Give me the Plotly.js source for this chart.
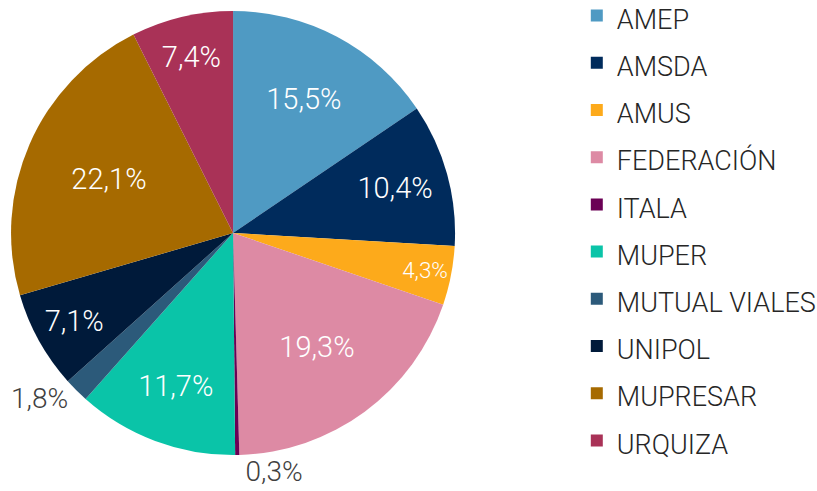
<!DOCTYPE html>
<html>
<head>
<meta charset="utf-8">
<script src="https://cdn.plot.ly/plotly-3.0.1.min.js"></script>
<style>html,body{margin:0;padding:0;background:#fff;}#chart{width:817px;height:491px;}</style>
</head>
<body>
<div id="chart"></div>
<script>
const labels = ["AMEP", "AMSDA", "AMUS", "FEDERACIÓN", "ITALA", "MUPER", "MUTUAL VIALES", "UNIPOL", "MUPRESAR", "URQUIZA"];
const values = [15.5, 10.4, 4.3, 19.3, 0.3, 11.7, 1.8, 7.1, 22.1, 7.4];
const valueText = ["15,5%", "10,4%", "4,3%", "19,3%", "0,3%", "11,7%", "1,8%", "7,1%", "22,1%", "7,4%"];
const colors = ["#4F9AC3", "#002B5C", "#FDAA1B", "#DD8AA4", "#6B0055", "#0AC4A8", "#2C5A7A", "#001A3A", "#A66A00", "#A93257"];
const positions = ["inside", "inside", "inside", "inside", "outside", "inside", "outside", "inside", "inside", "inside"];

const legendLabels = labels.map(l => '<span style="font-size:27px">' + l + '</span>');

const trace = {
  type: 'pie',
  labels: legendLabels,
  values: values,
  text: valueText,
  texttemplate: '%{text}',
  textposition: positions,
  sort: false,
  direction: 'clockwise',
  rotation: 0,
  marker: {colors: colors, line: {width: 0}},
  insidetextorientation: 'horizontal',
  insidetextfont: {family: 'Roboto', size: 29, color: '#ffffff', weight: 300},
  outsidetextfont: {family: 'Roboto', size: 28, color: '#404040', weight: 300},
  domain: {x: [0.0135, 0.557], y: [0.0733, 0.9776]},
  hoverinfo: 'none'
};

const layout = {
  width: 817, height: 491,
  margin: {l: 0, r: 0, t: 0, b: 0, autoexpand: false},
  paper_bgcolor: '#ffffff',
  showlegend: true,
  font: {family: 'Roboto', color: '#262626'},
  legend: {
    x: 0.706, xanchor: 'left',
    y: 1.0265, yanchor: 'top',
    maxheight: 2000,
    font: {family: 'Roboto', size: 34, color: '#262626', weight: 300},
    bgcolor: 'rgba(0,0,0,0)'
  }
};

Plotly.newPlot('chart', [trace], layout, {staticPlot: true, displayModeBar: false});
</script>
</body>
</html>
